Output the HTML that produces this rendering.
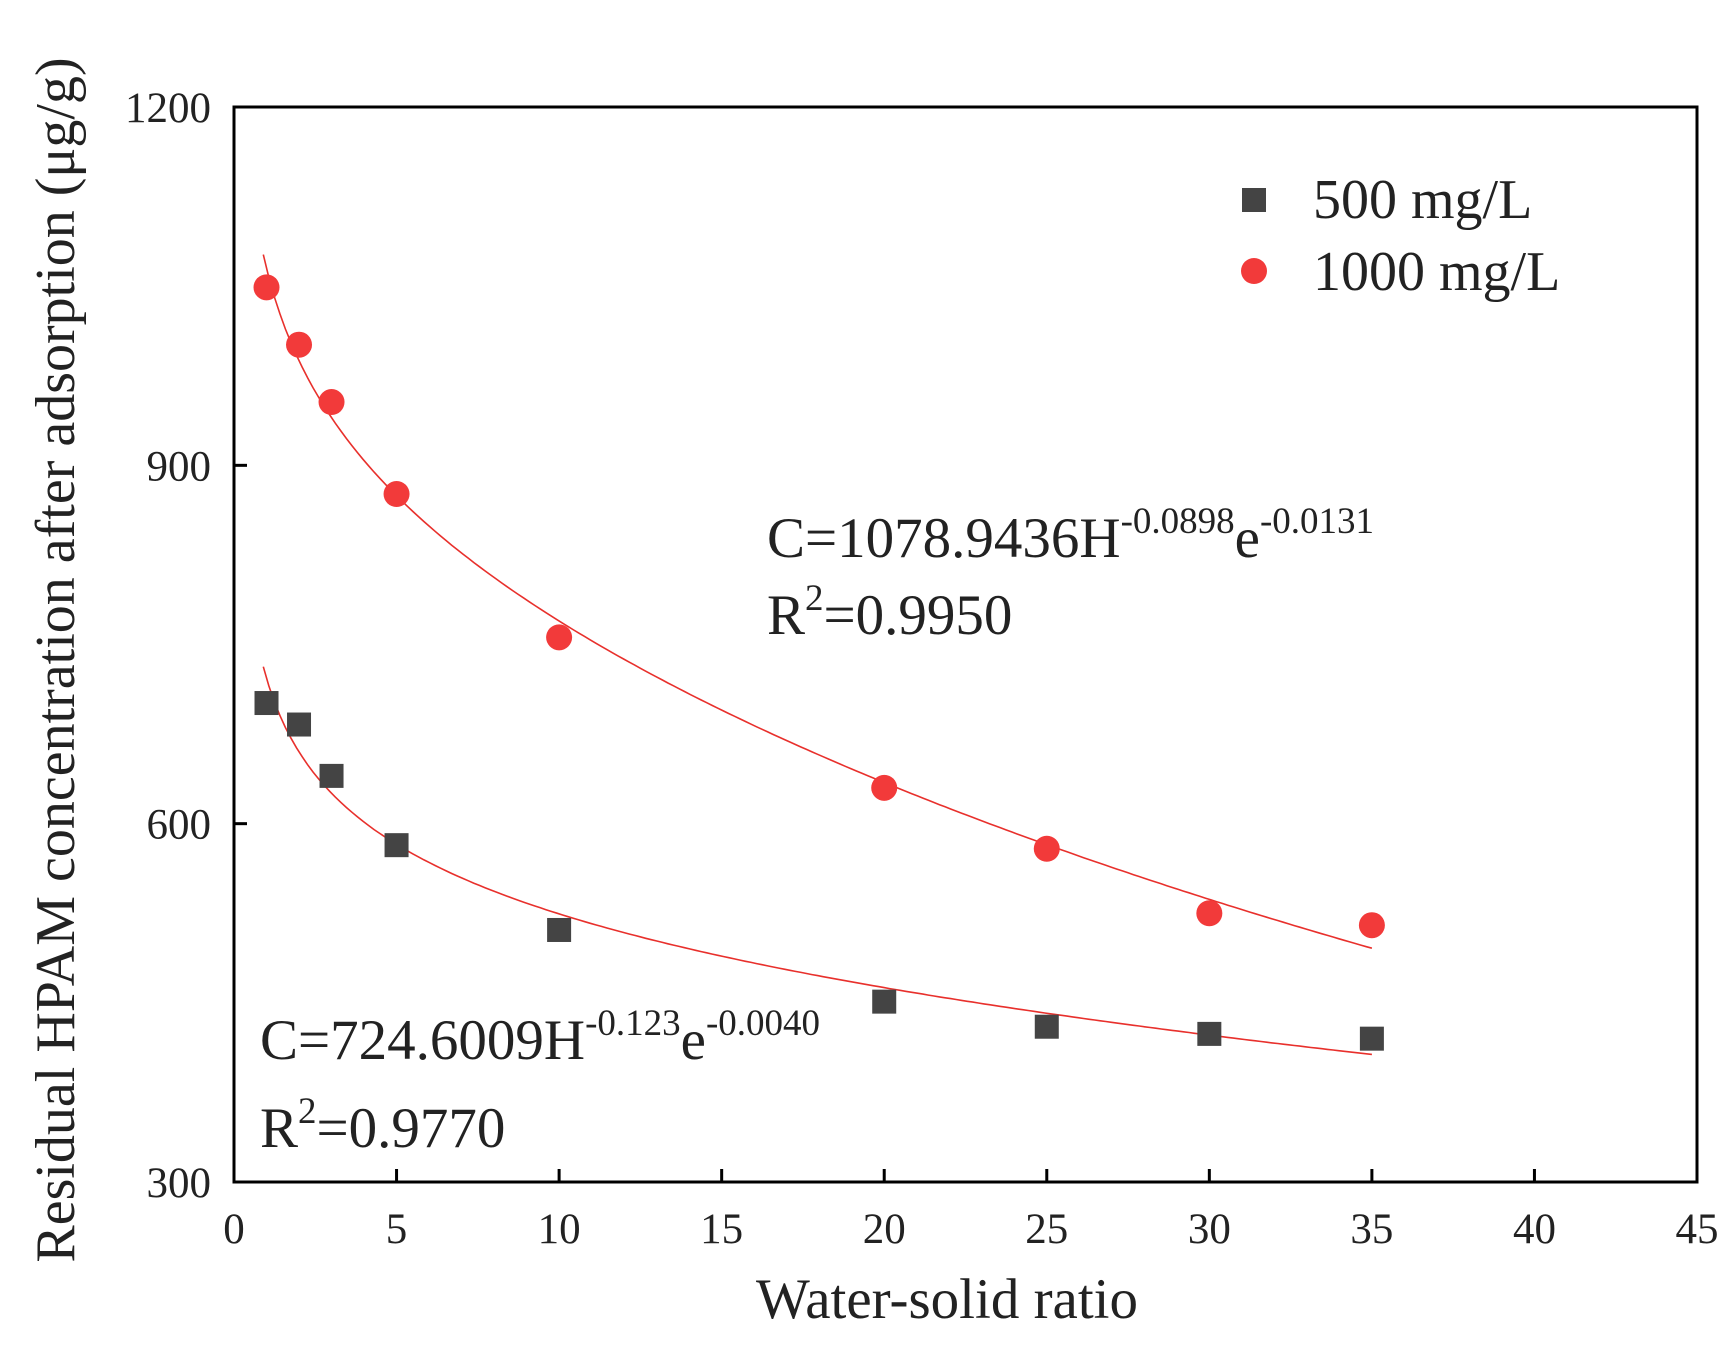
<!DOCTYPE html>
<html><head><meta charset="utf-8"><style>
html,body{margin:0;padding:0;background:#fff}
svg{display:block;font-family:"Liberation Serif",serif}
</style></head><body>
<svg id="c" width="1730" height="1348" viewBox="0 0 1730 1348"></svg>
<script>
const xData=[1,2,3,5,10,20,25,30,35];
const series500=[701,683,640,582,511,451,430,424,420];
const series1000=[1049,1001,953,876,756,630,579,525,515];
const fit500=[724.6009,-0.123,-0.0040];
const fit1000=[1078.9436,-0.0898,-0.0131];
const xTicks=[0,5,10,15,20,25,30,35,40,45];
const yTicks=[300,600,900,1200];
const L=234,R=1697,T=107,B=1182;
const xs=v=>L+(v-0)/45*(R-L);
const ys=v=>B-(v-300)/900*(B-T);
const svg=document.getElementById('c');
const NS='http://www.w3.org/2000/svg';
function mk(tag,attrs,parent){const e=document.createElementNS(NS,tag);for(const k in attrs)e.setAttribute(k,attrs[k]);(parent||svg).appendChild(e);return e;}
function fitPath(p){let d='';for(let i=0;i<=200;i++){const h=0.9+(35-0.9)*i/200;const v=p[0]*Math.pow(h,p[1])*Math.exp(p[2]*h);d+=(i?'L':'M')+xs(h).toFixed(1)+','+ys(v).toFixed(1);}return d;}
const f1=mk('path',{d:fitPath(fit500),fill:'none',stroke:'#e8302c','stroke-width':1.6});


const f2=mk('path',{d:fitPath(fit1000),fill:'none',stroke:'#e8302c','stroke-width':1.6});


xData.forEach((x,i)=>{
 const s=mk('rect',{x:xs(x)-12,y:ys(series500[i])-12,width:24,height:24,fill:'#444'});
 
 
 const c=mk('circle',{cx:xs(x),cy:ys(series1000[i]),r:13,fill:'#f23a3a'});
 
 
});
const fr=mk('rect',{x:L,y:T,width:R-L,height:B-T,fill:'none',stroke:'#000','stroke-width':3});


xTicks.forEach(t=>{
 const x=xs(t);
 mk('line',{x1:x,y1:B,x2:x,y2:B-13,stroke:'#000','stroke-width':3});
 const tx=mk('text',{x:x,y:1243,'font-size':43,'text-anchor':'middle',fill:'#222'});tx.textContent=t;
 
 
});
yTicks.forEach(t=>{
 const y=ys(t);
 mk('line',{x1:L,y1:y,x2:L+13,y2:y,stroke:'#000','stroke-width':3});
 const tx=mk('text',{x:211,y:y+15,'font-size':43,'text-anchor':'end',fill:'#222'});tx.textContent=t;
 
 
});
</script>
<svg style="position:absolute;left:0;top:0" width="1730" height="1348" font-family="Liberation Serif, serif" fill="#222">
<text x="947" y="1318" font-size="57" text-anchor="middle">Water-solid ratio</text>
<text transform="translate(74,660) rotate(-90)" font-size="56" text-anchor="middle">Residual HPAM concentration after adsorption (μg/g)</text>
<g>
<rect x="1242" y="188" width="24" height="24" fill="#444"/>
<text x="1313" y="218" font-size="56">500 mg/L</text>
<circle cx="1254" cy="271" r="13" fill="#f23a3a"/>
<text x="1313" y="290" font-size="56">1000 mg/L</text>
</g>
<text x="767" y="557" font-size="57">C=1078.9436H<tspan font-size="37" dy="-24">-0.0898</tspan><tspan dy="24">e</tspan><tspan font-size="37" dy="-24">-0.0131</tspan></text>
<text x="767" y="634" font-size="57">R<tspan font-size="37" dy="-24">2</tspan><tspan dy="24">=0.9950</tspan></text>
<text x="260" y="1059" font-size="57">C=724.6009H<tspan font-size="37" dy="-24">-0.123</tspan><tspan dy="24">e</tspan><tspan font-size="37" dy="-24">-0.0040</tspan></text>
<text x="260" y="1147" font-size="57">R<tspan font-size="37" dy="-24">2</tspan><tspan dy="24">=0.9770</tspan></text>
</svg>
</body></html>
